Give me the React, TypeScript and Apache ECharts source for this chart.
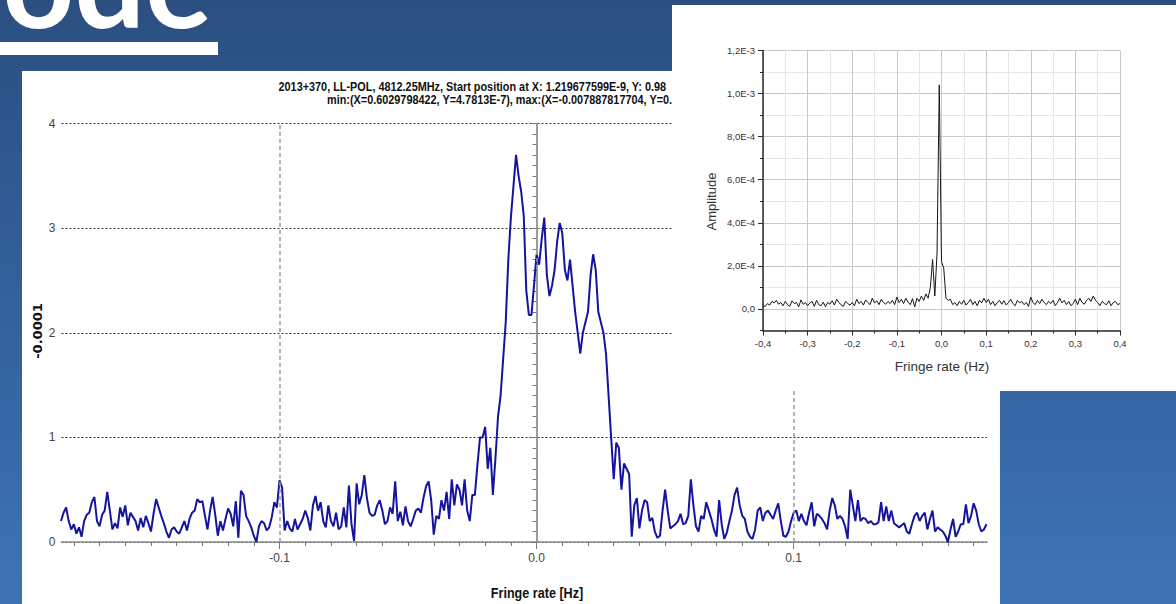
import React, { useEffect, useRef } from "react";
import * as echarts from "echarts";

// ---------- Main spectrum (values in units of 1e-4), sampled every 0.001 Hz from -0.185 Hz ----------
const MAIN_FREQ_START = -0.185;
const MAIN_FREQ_STEP = 0.001;
const mainAmpLeft = [
  0.2, 0.28, 0.33, 0.2, 0.12, 0.17, 0.08, 0.14, 0.05, 0.2,
  0.26, 0.28, 0.38, 0.43, 0.2, 0.15, 0.26, 0.3, 0.48, 0.3,
  0.12, 0.18, 0.13, 0.33, 0.24, 0.35, 0.16, 0.28, 0.24, 0.2,
  0.11, 0.23, 0.14, 0.25, 0.18, 0.1, 0.27, 0.41, 0.33, 0.25,
  0.18, 0.1, 0.04, 0.12, 0.14, 0.1, 0.08, 0.14, 0.2, 0.11,
  0.22, 0.28, 0.3, 0.41, 0.38, 0.39, 0.25, 0.12, 0.3, 0.43,
  0.26, 0.06, 0.2, 0.11, 0.22, 0.32, 0.27, 0.15, 0.39, 0.04,
  0.49, 0.45, 0.25, 0.2, 0.14, 0.06, 0.0, 0.15, 0.2, 0.18,
  0.11, 0.14, 0.24, 0.38, 0.33, 0.59, 0.52, 0.11, 0.2, 0.13,
  0.1, 0.22, 0.12, 0.17, 0.22, 0.3, 0.23, 0.11, 0.35, 0.44,
  0.3, 0.38, 0.2, 0.14, 0.35, 0.2, 0.15, 0.28, 0.12, 0.15,
  0.33, 0.14, 0.54, 0.17, 0.01, 0.56, 0.36, 0.45, 0.64, 0.42,
  0.28, 0.25, 0.26, 0.35, 0.4, 0.3, 0.17,
];
const mainAmpCenter = [
  0.2, 0.33, 0.27, 0.58, 0.2, 0.29, 0.16, 0.34, 0.2, 0.15,
  0.22, 0.3, 0.32, 0.28, 0.42, 0.53, 0.58, 0.4, 0.07, 0.25,
  0.22, 0.4, 0.3, 0.48, 0.22, 0.6, 0.35, 0.55, 0.5, 0.35,
  0.6, 0.3, 0.2, 0.45, 0.45, 0.74, 1.0, 1.0, 1.1, 0.7,
  0.9, 0.45, 0.8, 1.2, 1.4, 1.75, 2.1, 2.7, 3.1, 3.4,
  3.7, 3.5, 3.35, 3.12, 2.4, 2.17, 2.17, 2.45, 2.75, 2.65,
  2.9, 3.1, 2.55, 2.35, 2.45, 2.6, 2.87, 3.05, 2.95, 2.6,
  2.5, 2.7, 2.45, 2.2, 2.0, 1.8, 2.0, 2.1, 2.2, 2.55,
  2.75, 2.6, 2.2, 2.1, 2.0, 1.8, 1.4, 1.0, 0.6, 0.95,
  0.9, 0.5, 0.75, 0.7, 0.65, 0.05, 0.35, 0.42, 0.13, 0.3,
  0.4,
];
const mainAmpRight = [
  0.38, 0.2, 0.23, 0.1, 0.04, 0.06, 0.3, 0.5, 0.3, 0.13,
  0.15, 0.17, 0.2, 0.27, 0.17, 0.18, 0.25, 0.6, 0.35, 0.15,
  0.1, 0.25, 0.22, 0.38, 0.3, 0.22, 0.12, 0.05, 0.4, 0.17,
  0.03, 0.09, 0.2, 0.3, 0.45, 0.52, 0.35, 0.25, 0.22, 0.1,
  0.05, 0.03, 0.12, 0.3, 0.33, 0.2, 0.28, 0.3, 0.26, 0.22,
  0.3, 0.37, 0.2, 0.06, 0.05, 0.1, 0.2, 0.28, 0.3, 0.2,
  0.27, 0.2, 0.16, 0.28, 0.38, 0.15, 0.27, 0.25, 0.22, 0.18,
  0.12, 0.3, 0.42, 0.35, 0.22, 0.25, 0.22, 0.15, 0.03, 0.5,
  0.35, 0.2, 0.4, 0.2, 0.23, 0.22, 0.18, 0.2, 0.17, 0.17,
  0.19, 0.38, 0.2, 0.34, 0.2, 0.3, 0.18, 0.16, 0.14, 0.16,
  0.18, 0.1, 0.08, 0.17, 0.25, 0.28, 0.2, 0.25, 0.28, 0.12,
  0.22, 0.3, 0.1, 0.14, 0.12, 0.1, 0.06, 0.0, 0.12, 0.22,
  0.05, 0.1, 0.17, 0.17, 0.36, 0.18, 0.25, 0.37, 0.3, 0.17,
  0.1, 0.12, 0.17,
];
const mainXMin = -0.1848;
const mainXMax = 0.1752;
const mainXMajorTicks = [-0.1, 0, 0.1];
const mainXMinorTicks = [
  -0.18, -0.17, -0.16, -0.15, -0.14, -0.13, -0.12, -0.11, -0.09, -0.08, -0.07, -0.06, -0.05,
  -0.04, -0.03, -0.02, -0.01, 0.01, 0.02, 0.03, 0.04, 0.05, 0.06, 0.07, 0.08, 0.09, 0.11,
  0.12, 0.13, 0.14, 0.15, 0.16, 0.17,
];

// ---------- Inset spectrum (values in units of 1e-4), sampled every 0.005 Hz from -0.4 Hz ----------
const INSET_FREQ_START = -0.4;
const INSET_FREQ_STEP = 0.005;
const insetAmp = [
  0.15, 0.12, 0.25, 0.18, 0.35, 0.28, 0.4, 0.22, 0.3, 0.15,
  0.35, 0.2, 0.12, 0.38, 0.25, 0.3, 0.1, 0.42, 0.22, 0.3,
  0.15, 0.28, 0.35, 0.12, 0.4, 0.2, 0.15, 0.32, 0.1, 0.3,
  0.22, 0.38, 0.18, 0.45, 0.3, 0.2, 0.12, 0.35, 0.25, 0.18,
  0.3, 0.15, 0.45, 0.25, 0.35, 0.18, 0.42, 0.3, 0.2, 0.5,
  0.28, 0.38, 0.2, 0.45, 0.3, 0.22, 0.35, 0.25, 0.4, 0.2,
  0.55, 0.3, 0.45, 0.25, 0.5, 0.32, 0.2, 0.48, 0.1, 0.5,
  0.35, 0.6, 0.4, 0.7, 0.5, 1.0, 2.3, 0.6, 2.6, 10.4,
  2.2, 1.9, 0.5, 0.4, 0.45, 0.2, 0.3, 0.15, 0.35, 0.22,
  0.4, 0.18, 0.3, 0.45, 0.2, 0.35, 0.15, 0.4, 0.28, 0.5,
  0.3, 0.45, 0.2, 0.35, 0.15, 0.3, 0.4, 0.22, 0.38, 0.18,
  0.3, 0.45, 0.25, 0.15, 0.4, 0.28, 0.35, 0.2, 0.3, 0.12,
  0.55, 0.3, 0.2, 0.4, 0.25, 0.45, 0.3, 0.2, 0.35, 0.25,
  0.4, 0.15, 0.3, 0.5, 0.28, 0.4, 0.2, 0.35, 0.15, 0.25,
  0.45, 0.2, 0.5, 0.3, 0.22, 0.4, 0.5, 0.35, 0.6, 0.4,
  0.3, 0.15, 0.35, 0.25, 0.2, 0.38, 0.15, 0.3, 0.35, 0.2,
  0.25,
];
const insetXMajorTicks = [-0.4, -0.3, -0.2, -0.1, 0, 0.1, 0.2, 0.3, 0.4];
const insetXTickLabels = ["-0,4", "-0,3", "-0,2", "-0,1", "0,0", "0,1", "0,2", "0,3", "0,4"];
const insetXMinorTicks = [-0.35, -0.25, -0.15, -0.05, 0.05, 0.15, 0.25, 0.35];
const insetYMajorTicks = [0, 2, 4, 6, 8, 10, 12];
const insetYTickLabels = ["0,0", "2,0E-4", "4,0E-4", "6,0E-4", "8,0E-4", "1,0E-3", "1,2E-3"];
const insetYMinorTicks = [-1, 1, 3, 5, 7, 9, 11];

const TITLE_LINE_1 = "2013+370, LL-POL, 4812.25MHz, Start position at X: 1.219677599E-9, Y: 0.98";
const TITLE_LINE_2 = "min:(X=0.6029798422, Y=4.7813E-7), max:(X=-0.007887817704, Y=0.";

const NARROW = "'Liberation Sans Narrow', 'Liberation Sans', Arial, sans-serif";
const SANS = "'Liberation Sans', Arial, sans-serif";

function toPairs(start: number, step: number, values: number[]) {
  return values.map((v, i) => [Number((start + i * step).toFixed(4)), v]);
}

function labelFor(ticks: number[], labels: string[], v: number) {
  const i = ticks.findIndex((t) => Math.abs(t - v) < 1e-9);
  return i >= 0 ? labels[i] : "";
}

function MainChart() {
  const ref = useRef<HTMLDivElement>(null);
  useEffect(() => {
    if (!ref.current) return;
    const chart = echarts.init(ref.current, undefined, { renderer: "svg" });
    const data = toPairs(MAIN_FREQ_START, MAIN_FREQ_STEP, [
      ...mainAmpLeft,
      ...mainAmpCenter,
      ...mainAmpRight,
    ]);
    const axisGray = "#8c8c8c";
    chart.setOption({
      animation: false,
      grid: { left: 61.5, right: 189, top: 123.5, bottom: 62 },
      xAxis: [
        {
          type: "value",
          min: mainXMin,
          max: mainXMax,
          position: "bottom",
          axisLine: { show: true, onZero: false, lineStyle: { color: axisGray, width: 1.5 } },
          axisTick: { show: true, customValues: mainXMajorTicks, length: 7, lineStyle: { color: "#777" } },
          axisLabel: {
            customValues: mainXMajorTicks,
            formatter: (v: number) => v.toFixed(1),
            color: "#444",
            fontSize: 12,
            fontFamily: NARROW,
            margin: 10,
          },
          splitLine: { show: false },
        },
        {
          type: "value",
          min: mainXMin,
          max: mainXMax,
          position: "bottom",
          axisLine: { show: false, onZero: false },
          axisTick: { show: true, customValues: mainXMinorTicks, length: 4, lineStyle: { color: "#777" } },
          axisLabel: { show: false },
          splitLine: { show: false },
        },
      ],
      yAxis: [
        {
          type: "value",
          min: 0,
          max: 4,
          interval: 1,
          axisLine: { show: true, lineStyle: { color: axisGray, width: 1.5 } },
          axisTick: { show: true, length: 6, lineStyle: { color: "#777" } },
          minorTick: { show: true, splitNumber: 10, length: 4, lineStyle: { color: "#777" } },
          axisLabel: { color: "#444", fontSize: 12, fontFamily: NARROW, margin: 6 },
          splitLine: { show: true, lineStyle: { color: "#333", type: [2, 2], width: 1 } },
        },
        {
          type: "value",
          min: 0,
          max: 4,
          position: "right",
          axisLine: { show: true, lineStyle: { color: "#9a9a9a", width: 1.5 } },
          axisTick: { show: false },
          axisLabel: { show: false },
          splitLine: { show: false },
        },
      ],
      series: [
        {
          type: "line",
          data,
          xAxisIndex: 0,
          yAxisIndex: 0,
          symbol: "none",
          showSymbol: false,
          clip: true,
          lineStyle: { color: "#14149e", width: 2 },
          markLine: {
            silent: true,
            symbol: ["none", "none"],
            label: { show: false },
            lineStyle: { color: "#9a9a9a", type: [4, 3], width: 1.5 },
            data: mainXMajorTicks.map((v) => ({ xAxis: v })),
          },
        },
      ],
      graphic: [
        {
          type: "text",
          x: 212,
          y: -20,
          style: {
            text: "ode",
            fill: "#ffffff",
            fontSize: 125,
            fontWeight: "bold",
            fontFamily: "Lato, 'Open Sans', sans-serif",
            align: "right",
            verticalAlign: "middle",
          },
        },
        {
          type: "text",
          x: 278.5,
          y: 86.5,
          scaleX: 0.87,
          style: {
            text: TITLE_LINE_1,
            fill: "#111",
            fontSize: 12.5,
            fontWeight: "bold",
            fontFamily: SANS,
            align: "left",
            verticalAlign: "middle",
          },
        },
        {
          type: "text",
          x: 327,
          y: 99,
          scaleX: 0.87,
          style: {
            text: TITLE_LINE_2,
            fill: "#111",
            fontSize: 12.5,
            fontWeight: "bold",
            fontFamily: SANS,
            align: "left",
            verticalAlign: "middle",
          },
        },
        {
          type: "text",
          x: 37,
          y: 331,
          rotation: Math.PI / 2,
          style: {
            text: "-0.0001",
            fill: "#111",
            fontSize: 13,
            fontWeight: "bold",
            fontFamily: "'DejaVu Sans', sans-serif",
            align: "center",
            verticalAlign: "middle",
          },
        },
        {
          type: "text",
          x: 537,
          y: 593,
          scaleX: 0.84,
          style: {
            text: "Fringe rate [Hz]",
            fill: "#111",
            fontSize: 15,
            fontWeight: "bold",
            fontFamily: SANS,
            align: "center",
            verticalAlign: "middle",
          },
        },
      ],
    });
    return () => chart.dispose();
  }, []);
  return (
    <div
      ref={ref}
      style={{ position: "absolute", left: 0, top: 0, width: 1176, height: 604 }}
    />
  );
}

function InsetChart() {
  const ref = useRef<HTMLDivElement>(null);
  useEffect(() => {
    if (!ref.current) return;
    const chart = echarts.init(ref.current, undefined, { renderer: "svg" });
    const data = toPairs(INSET_FREQ_START, INSET_FREQ_STEP, insetAmp);
    const dark = "#2a2a2a";
    chart.setOption({
      animation: false,
      grid: { left: 91, right: 56, top: 45.5, bottom: 60.5 },
      xAxis: [
        {
          type: "value",
          min: -0.4,
          max: 0.4,
          interval: 0.05,
          axisLine: { show: false },
          axisTick: { show: false },
          axisLabel: { show: false },
          splitLine: { show: true, lineStyle: { color: ["#c9c9c9", "#e6e6e6"], width: 1 } },
        },
        {
          type: "value",
          min: -0.4,
          max: 0.4,
          position: "bottom",
          axisLine: { show: true, onZero: false, lineStyle: { color: dark, width: 1.5 } },
          axisTick: { show: true, customValues: insetXMajorTicks, length: 5, lineStyle: { color: dark } },
          axisLabel: {
            customValues: insetXMajorTicks,
            formatter: (v: number) => labelFor(insetXMajorTicks, insetXTickLabels, v),
            color: "#333",
            fontSize: 9.5,
            fontFamily: SANS,
            margin: 8,
          },
          splitLine: { show: false },
        },
        {
          type: "value",
          min: -0.4,
          max: 0.4,
          position: "bottom",
          axisLine: { show: false, onZero: false },
          axisTick: { show: true, customValues: insetXMinorTicks, length: 3, lineStyle: { color: dark } },
          axisLabel: { show: false },
          splitLine: { show: false },
        },
      ],
      yAxis: [
        {
          type: "value",
          min: -1,
          max: 12,
          interval: 1,
          axisLine: { show: false },
          axisTick: { show: false },
          axisLabel: { show: false },
          splitLine: { show: true, lineStyle: { color: ["#e6e6e6", "#c9c9c9"], width: 1 } },
        },
        {
          type: "value",
          min: -1,
          max: 12,
          position: "left",
          axisLine: { show: true, onZero: false, lineStyle: { color: dark, width: 1.5 } },
          axisTick: { show: true, customValues: insetYMajorTicks, length: 5, lineStyle: { color: dark } },
          axisLabel: {
            customValues: insetYMajorTicks,
            formatter: (v: number) => labelFor(insetYMajorTicks, insetYTickLabels, v),
            color: "#333",
            fontSize: 9.5,
            fontFamily: SANS,
            margin: 8,
          },
          splitLine: { show: false },
        },
        {
          type: "value",
          min: -1,
          max: 12,
          position: "left",
          axisLine: { show: false, onZero: false },
          axisTick: { show: true, customValues: insetYMinorTicks, length: 3, lineStyle: { color: dark } },
          axisLabel: { show: false },
          splitLine: { show: false },
        },
      ],
      series: [
        {
          type: "line",
          data,
          xAxisIndex: 0,
          yAxisIndex: 0,
          symbol: "none",
          showSymbol: false,
          lineStyle: { color: "#151515", width: 1 },
        },
      ],
      graphic: [
        {
          type: "text",
          x: 39,
          y: 196.5,
          rotation: Math.PI / 2,
          style: {
            text: "Amplitude",
            fill: "#333",
            fontSize: 13,
            fontFamily: SANS,
            align: "center",
            verticalAlign: "middle",
          },
        },
        {
          type: "text",
          x: 270,
          y: 361,
          style: {
            text: "Fringe rate (Hz)",
            fill: "#333",
            fontSize: 13.5,
            fontFamily: SANS,
            align: "center",
            verticalAlign: "middle",
          },
        },
      ],
    });
    return () => chart.dispose();
  }, []);
  return <div ref={ref} style={{ width: 504, height: 386 }} />;
}

export default function App() {
  return (
    <div
      style={{
        position: "absolute",
        left: 0,
        top: 0,
        width: 1176,
        height: 604,
        overflow: "hidden",
        background: "linear-gradient(180deg, #2b4f80 0%, #33619c 50%, #3d73b5 100%)",
      }}
    >
      <div style={{ position: "absolute", left: 0, top: 42, width: 218, height: 13, background: "#ffffff" }} />
      <div style={{ position: "absolute", left: 22, top: 71, width: 978, height: 533, background: "#ffffff" }} />
      <MainChart />
      <div
        style={{
          position: "absolute",
          left: 672,
          top: 5,
          width: 504,
          height: 386,
          background: "#ffffff",
        }}
      >
        <InsetChart />
      </div>
    </div>
  );
}
